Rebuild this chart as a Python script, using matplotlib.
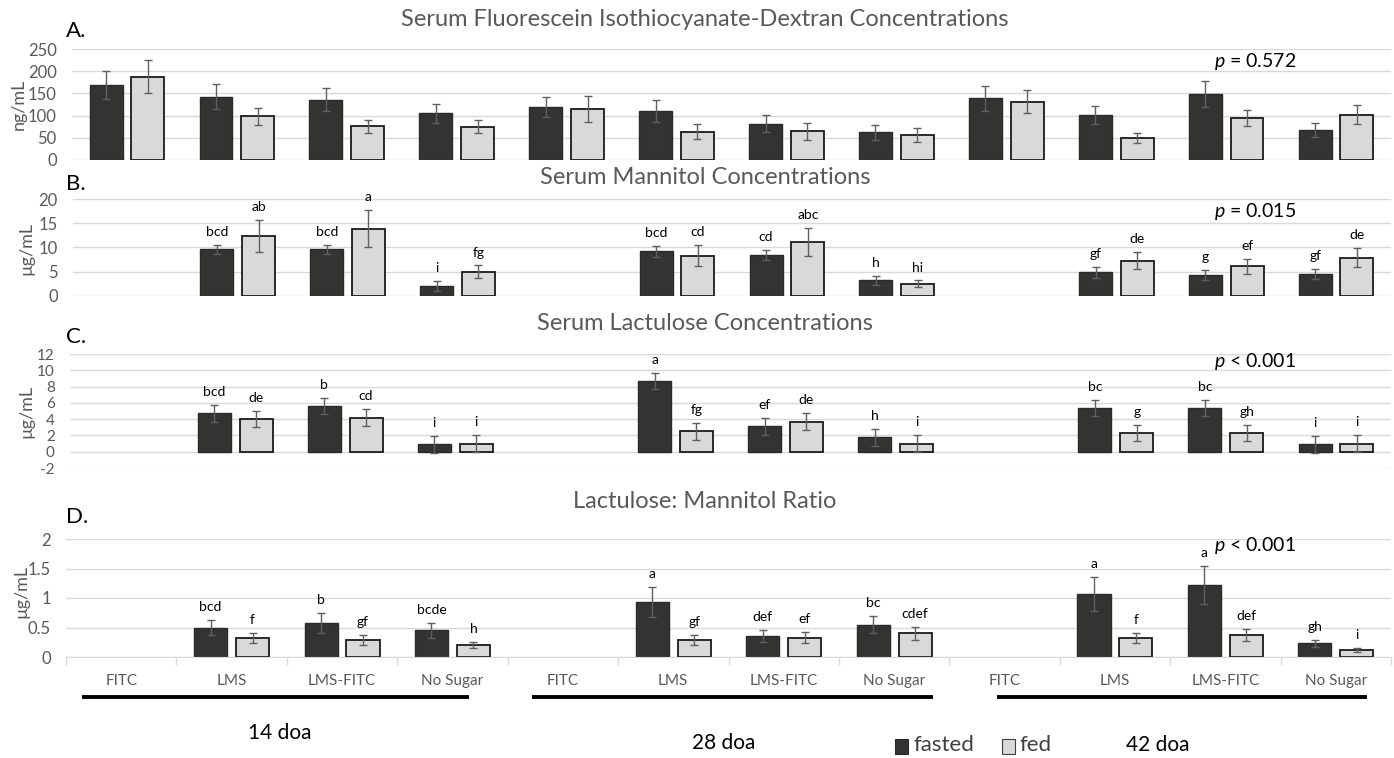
import matplotlib.pyplot as plt
import numpy as np
from matplotlib.lines import Line2D
from matplotlib.patches import Rectangle

plt.rcParams['font.family'] = ['Lato', 'DejaVu Sans']
plt.rcParams['axes.unicode_minus'] = False
plt.rcParams['mathtext.fontset'] = 'custom'
plt.rcParams['mathtext.it'] = 'Lato:italic'
plt.rcParams['mathtext.rm'] = 'Lato'

nan = np.nan
categories = ["FITC", "LMS", "LMS-FITC", "No Sugar"] * 3
days = ["14 doa", "28 doa", "42 doa"]

# A. serum FITC-d (ng/mL)
fitc_fasted = [169, 143, 136, 105, 120, 111, 82, 62, 139, 101, 149, 67]
fitc_fasted_err = [32, 28, 26, 22, 23, 25, 20, 17, 28, 20, 29, 16]
fitc_fed = [188, 98, 76, 75, 115, 64, 65, 57, 131, 50, 95, 102]
fitc_fed_err = [37, 20, 15, 15, 30, 16, 19, 16, 26, 11, 18, 22]

# B. serum mannitol (ug/mL)
man_fasted = [nan, 9.6, 9.6, 2.1, nan, 9.2, 8.5, 3.2, nan, 4.9, 4.3, 4.5]
man_fasted_err = [nan, 1.0, 1.0, 1.0, nan, 1.1, 1.0, 1.0, nan, 1.1, 1.0, 1.0]
man_fed = [nan, 12.4, 13.9, 5.0, nan, 8.3, 11.2, 2.5, nan, 7.3, 6.1, 7.9]
man_fed_err = [nan, 3.3, 3.9, 1.3, nan, 2.2, 2.9, 0.7, nan, 1.8, 1.5, 2.0]
man_let_fasted = ["", "bcd", "bcd", "i", "", "bcd", "cd", "h", "", "gf", "g", "gf"]
man_let_fed = ["", "ab", "a", "fg", "", "cd", "abc", "hi", "", "de", "ef", "de"]

# C. serum lactulose (ug/mL)
lac_fasted = [nan, 4.7, 5.6, 0.9, nan, 8.7, 3.1, 1.75, nan, 5.4, 5.4, 0.9]
lac_fasted_err = [nan, 1.0, 1.0, 1.0, nan, 1.0, 1.0, 1.0, nan, 1.0, 1.0, 1.0]
lac_fed = [nan, 4.0, 4.2, 1.0, nan, 2.5, 3.7, 1.0, nan, 2.3, 2.3, 1.0]
lac_fed_err = [nan, 1.0, 1.0, 1.0, nan, 1.0, 1.0, 1.0, nan, 1.0, 1.0, 1.0]
lac_let_fasted = ["", "bcd", "b", "i", "", "a", "ef", "h", "", "bc", "bc", "i"]
lac_let_fed = ["", "de", "cd", "i", "", "fg", "de", "i", "", "g", "gh", "i"]

# D. lactulose:mannitol ratio
ratio_fasted = [nan, 0.50, 0.58, 0.45, nan, 0.93, 0.36, 0.55, nan, 1.07, 1.22, 0.23]
ratio_fasted_err = [nan, 0.13, 0.17, 0.12, nan, 0.25, 0.10, 0.15, nan, 0.29, 0.33, 0.065]
ratio_fed = [nan, 0.32, 0.29, 0.20, nan, 0.29, 0.33, 0.40, nan, 0.32, 0.37, 0.12]
ratio_fed_err = [nan, 0.09, 0.08, 0.05, nan, 0.09, 0.09, 0.11, nan, 0.09, 0.10, 0.035]
ratio_let_fasted = ["", "bcd", "b", "bcde", "", "a", "def", "bc", "", "a", "a", "gh"]
ratio_let_fed = ["", "f", "gf", "h", "", "gf", "ef", "cdef", "", "f", "def", "i"]

DARK = '#333331'
LIGHT = '#d9d9d9'
GRID = '#d9d9d9'
GRAY = '#595959'
ERR = '#5f5f5f'

W, H = 1394, 758
fig = plt.figure(figsize=(W / 100, H / 100), dpi=100)


def fx(x):
    return x / W


def fy(y):
    return 1 - y / H


def make_ax(left, top, bottom, right=1391):
    return fig.add_axes([fx(left), fy(bottom), fx(right - left), (bottom - top) / H])


def draw(ax, fasted, fasted_err, fed, fed_err, let_fasted=None, let_fed=None):
    x = np.arange(len(categories))
    fasted = np.array(fasted, float)
    fed = np.array(fed, float)
    m1 = ~np.isnan(fasted)
    m2 = ~np.isnan(fed)
    ax.bar(x[m1] - 0.19, fasted[m1], 0.3, color=DARK, edgecolor='#2a2a2a', lw=1, zorder=2)
    ax.bar(x[m2] + 0.19, fed[m2], 0.3, color=LIGHT, edgecolor='#1a1a1a', lw=1.3, zorder=2)
    ax.errorbar(x[m1] - 0.19, fasted[m1], yerr=np.array(fasted_err)[m1], fmt='none',
                ecolor=ERR, elinewidth=1, capsize=3, capthick=1, zorder=3)
    ax.errorbar(x[m2] + 0.19, fed[m2], yerr=np.array(fed_err)[m2], fmt='none',
                ecolor=ERR, elinewidth=1, capsize=3, capthick=1, zorder=3)
    if let_fasted is not None:
        for xi, v, e, t in zip(x - 0.19, fasted, fasted_err, let_fasted):
            if t:
                ax.annotate(t, (xi, v + e), xytext=(0, 5), textcoords='offset points',
                            ha='center', va='bottom', fontsize=10, color='black')
        for xi, v, e, t in zip(x + 0.19, fed, fed_err, let_fed):
            if t:
                ax.annotate(t, (xi, v + e), xytext=(0, 5), textcoords='offset points',
                            ha='center', va='bottom', fontsize=10, color='black')
    ax.set_xlim(-0.5, len(categories) - 0.5)
    ax.set_xticks([])
    for s in ax.spines.values():
        s.set_visible(False)
    ax.yaxis.grid(True, color=GRID, lw=1)
    ax.set_axisbelow(True)
    ax.tick_params(axis='y', length=0, pad=11, labelcolor=GRAY, labelsize=12)


axA = make_ax(72, 49, 160)
draw(axA, fitc_fasted, fitc_fasted_err, fitc_fed, fitc_fed_err)
axA.set_ylim(0, 250)
axA.set_yticks(np.arange(0, 251, 50))

axB = make_ax(73, 199, 296)
draw(axB, man_fasted, man_fasted_err, man_fed, man_fed_err, man_let_fasted, man_let_fed)
axB.set_ylim(0, 20)
axB.set_yticks(np.arange(0, 21, 5))

axC = make_ax(70, 354, 468)
draw(axC, lac_fasted, lac_fasted_err, lac_fed, lac_fed_err, lac_let_fasted, lac_let_fed)
axC.set_ylim(-2, 12)
axC.set_yticks(np.arange(-2, 13, 2))
axC.tick_params(axis='y', labelsize=11)

axD = make_ax(66, 539, 657)
draw(axD, ratio_fasted, ratio_fasted_err, ratio_fed, ratio_fed_err, ratio_let_fasted, ratio_let_fed)
axD.set_ylim(0, 2)
axD.set_yticks([0, 0.5, 1, 1.5, 2])
axD.set_yticklabels(["0", "0.5", "1", "1.5", "2"])
axD.spines['bottom'].set_visible(True)
axD.spines['bottom'].set_color(GRID)
axD.set_xticks(np.arange(len(categories)))
axD.set_xticklabels(categories)
axD.set_xticks(np.arange(-0.5, len(categories), 1), minor=True)
axD.tick_params(axis='x', which='major', length=0, pad=12, labelcolor=GRAY, labelsize=11)
axD.tick_params(axis='x', which='minor', length=6, color=GRID, width=1)

# titles, panel letters, y labels
titles = ["Serum Fluorescein Isothiocyanate-Dextran Concentrations",
          "Serum Mannitol Concentrations",
          "Serum Lactulose Concentrations",
          "Lactulose: Mannitol Ratio"]
title_y = [20, 178, 324, 502]
for t, y in zip(titles, title_y):
    fig.text(fx(705), fy(y), t, ha='center', va='center', fontsize=17, color=GRAY)

for t, y in zip(["A.", "B.", "C.", "D."], [31, 184, 337, 517]):
    fig.text(fx(66), fy(y), t, ha='left', va='center', fontsize=16, color='black')

for t, x, y in zip(["ng/mL", "µg/mL", "µg/mL", "µg/mL"], [19, 26, 26, 21], [104, 248, 411, 591]):
    fig.text(fx(x), fy(y), t, ha='center', va='center', rotation=90, fontsize=13, color=GRAY)

pvals = [r"$p$ = 0.572", r"$p$ = 0.015", r"$p$ < 0.001", r"$p$ < 0.001"]
for t, y in zip(pvals, [62, 212, 362, 545]):
    fig.text(fx(1214), fy(y), t, ha='left', va='center', fontsize=14, color='black')

# day brackets
for (x0, x1) in [(82, 469), (532, 933), (997, 1367)]:
    fig.add_artist(Line2D([fx(x0), fx(x1)], [fy(697), fy(697)], color='black', lw=2.8,
                          solid_capstyle='butt'))
for t, x, y in zip(days, [280, 724, 1158], [733, 743, 745]):
    fig.text(fx(x), fy(y), t, ha='center', va='center', fontsize=15, color='black')

# legend
fig.add_artist(Rectangle((fx(895), fy(754)), fx(13), 15 / H, facecolor=DARK, edgecolor='#2a2a2a',
                         lw=0.8, transform=fig.transFigure))
fig.text(fx(914), fy(745), "fasted", ha='left', va='center', fontsize=16, color='#404040')
fig.add_artist(Rectangle((fx(1002), fy(754)), fx(13), 15 / H, facecolor=LIGHT, edgecolor='#404040',
                         lw=0.8, transform=fig.transFigure))
fig.text(fx(1020), fy(745), "fed", ha='left', va='center', fontsize=16, color='#404040')

fig.savefig("out.png", dpi=100)
